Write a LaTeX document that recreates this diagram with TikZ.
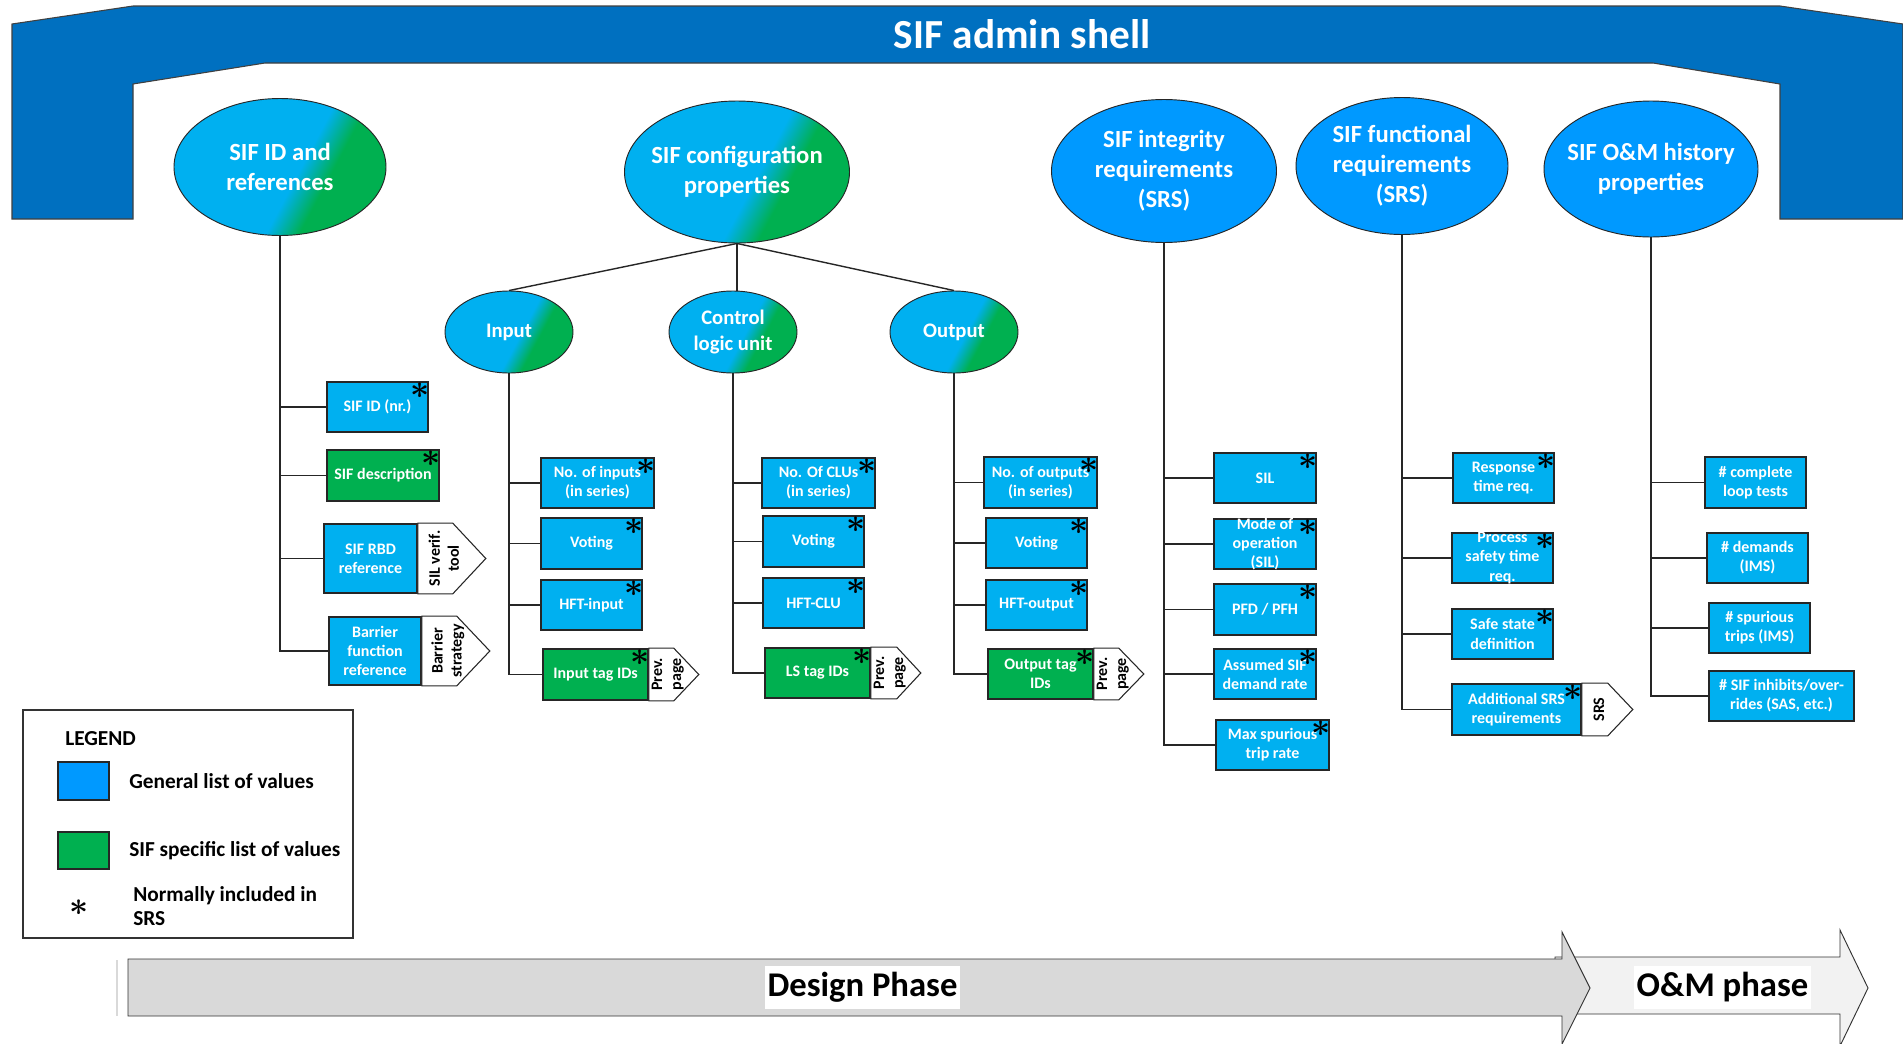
\documentclass[tikz,border=0pt]{standalone}
\usepackage{fontspec}
\setmainfont{Carlito}
\usetikzlibrary{shapes.geometric,calc}
\definecolor{shellblue}{HTML}{0070C0}
\definecolor{boxblue}{HTML}{00B0F0}
\definecolor{boxgreen}{HTML}{00B050}
\definecolor{ellblue}{HTML}{0099FF}
\definecolor{phasegray}{HTML}{D9D9D9}
\definecolor{omgray}{HTML}{F2F2F2}
\definecolor{edge}{HTML}{262626}
\pgfdeclarehorizontalshading{bluegreen}{100bp}{color(0bp)=(boxblue); color(55bp)=(boxblue); color(63bp)=(boxgreen); color(100bp)=(boxgreen)}
\tikzset{
  bx/.style={rectangle, draw=edge, line width=1.2pt, inner sep=0pt},
  bluebx/.style={bx, fill=boxblue},
  greenbx/.style={bx, fill=boxgreen},
  bxtext/.style={text=white, font=\bfseries\fontsize{12}{14.3}\selectfont, align=center, inner sep=0pt},
  conn/.style={draw=black!85, line width=1.05pt},
  tagshape/.style={draw=edge, line width=0.8pt, fill=white},
  tagtext/.style={font=\bfseries\fontsize{12}{14.3}\selectfont, align=center, rotate=90, inner sep=0pt},
  starmark/.style={inner sep=0pt, font=\fontsize{24}{24}\selectfont},
  ellbase/.style={ellipse, draw=black!85, line width=0.7pt, inner sep=0pt},
  gell/.style={ellbase, shade, shading=bluegreen, shading angle=-28},
  bell/.style={ellbase, fill=ellblue},
  elltext/.style={text=white, align=center, inner sep=0pt},
  bigfont/.style={font=\bfseries\fontsize{18.5}{22.5}\selectfont},
  smallfont/.style={font=\bfseries\fontsize{15.5}{19}\selectfont},
  titletext/.style={text=white, font=\bfseries\fontsize{31}{36}\selectfont, inner sep=0pt},
  phaselabel/.style={fill=white, inner sep=0pt, minimum height={43*0.75pt}, font=\bfseries\fontsize{26}{30}\selectfont},
  legtext/.style={inner sep=0pt, font=\bfseries\fontsize{16}{18}\selectfont},
  legsq/.style={draw=edge, line width=0.8pt, inner sep=0pt, minimum width={51*0.75pt}},
}
\newcommand\starglyph{\mbox{\boldmath$\ast$}}
% ellipse: name, style, cx, cy, w, h, font style, text
\newcommand\sifell[8]{%
  \node[#2, minimum width={#5*0.75pt}, minimum height={#6*0.75pt}] (#1) at (#3,#4) {};
  \node[elltext, #7] (#1-t) at (#1.center) {#8};}
% box: name, style, x1, y1, x2, y2, text
\newcommand\sifbox[7]{%
  \node[#2, minimum width={(#5-#3)*0.75pt}, minimum height={(#6-#4)*0.75pt}] (#1) at ({(#3+#5)/2},{(#4+#6)/2}) {};
  \node[bxtext] (#1-t) at (#1.center) {#7};}
\newcommand\sifstar[1]{\path (#1.north east) ++(-9,9) node[starmark] (#1-s) {\starglyph};}
% tag: box, rect width, point width, text, text offset
\newcommand\siftag[5]{%
  \path (#1.north east) ++(#2,0) coordinate (#1-ga);
  \path (#1.east) ++(#2+#3,0) coordinate (#1-gb);
  \path (#1.south east) ++(#2,0) coordinate (#1-gc);
  \path (#1.east) ++(#5,0) coordinate (#1-gd);
  \draw[tagshape] (#1.north east) -- (#1-ga) -- (#1-gb) -- (#1-gc) -- (#1.south east) -- cycle;
  \node[tagtext] (#1-g) at (#1-gd) {#4};}
\begin{document}
\begin{tikzpicture}[x=0.75pt,y=-0.75pt]
\useasboundingbox[fill=white] (0,0) rectangle (1903,1043);
% admin shell banner
\draw[fill=shellblue, draw=black!75, line width=0.8pt] (12,24) -- (133,6) -- (1780,6) -- (1903,24) -- (1903,219) -- (1780,219) -- (1780,84) -- (1653,63) -- (265,63) -- (133,84) -- (133,219) -- (12,219) -- cycle;
\node[titletext] (title) at (1022,34) {SIF admin shell};

% main ellipses
\sifell{idell}{gell}{280}{167}{212}{137}{bigfont}{SIF ID and\\references}
\sifell{cfg}{gell}{737}{172}{225}{142}{bigfont}{SIF configuration\\properties}
\sifell{integ}{bell}{1164}{171}{225}{143}{bigfont}{SIF integrity\\requirements\\(SRS)}
\sifell{func}{bell}{1402}{166}{212}{137}{bigfont}{SIF functional\\requirements\\(SRS)}
\sifell{omh}{bell}{1651}{169}{214}{136}{bigfont}{SIF O\&M history\\properties}

% sub ellipses
\sifell{inp}{gell}{509}{332}{128}{82}{smallfont}{Input}
\sifell{clu}{gell}{733}{332}{128}{82}{smallfont}{Control\\logic unit}
\sifell{outp}{gell}{954}{332}{128}{82}{smallfont}{Output}
\draw[conn] (cfg.south) -- (inp.north);
\draw[conn] (cfg.south) -- (cfg.south |- clu.north);
\draw[conn] (cfg.south) -- (outp.north);

% SIF ID column
\sifbox{sifid}{bluebx}{327}{382}{428}{432}{SIF ID (nr.)}
\sifbox{sifdesc}{greenbx}{327}{450}{439}{501}{SIF description}
\sifbox{rbd}{bluebx}{324}{524}{417}{593}{SIF RBD\\reference}
\sifbox{barrier}{bluebx}{329}{617}{421}{685}{Barrier\\function\\reference}
\sifstar{sifid}
\sifstar{sifdesc}
\siftag{rbd}{35}{33}{SIL verif.\\tool}{26}
\siftag{barrier}{35}{33}{Barrier\\strategy}{26}
\draw[conn] (idell.south) |- (sifid.west);
\draw[conn] (idell.south) |- (sifdesc.west);
\draw[conn] (idell.south) |- (rbd.west);
\draw[conn] (idell.south) |- (barrier.west);

% Input column
\sifbox{noin}{bluebx}{541}{458}{654}{508}{No. of inputs\\(in series)}
\sifbox{votin}{bluebx}{541}{518}{642}{569}{Voting}
\sifbox{hftin}{bluebx}{541}{580}{642}{630}{HFT-input}
\sifbox{intag}{greenbx}{543}{649}{648}{700}{Input tag IDs}
\siftag{intag}{25}{25}{Prev.\\page}{19}
\sifstar{noin}
\sifstar{votin}
\sifstar{hftin}
\sifstar{intag}
\draw[conn] (inp.south) |- (noin.west);
\draw[conn] (inp.south) |- (votin.west);
\draw[conn] (inp.south) |- (hftin.west);
\draw[conn] (inp.south) |- (intag.west);

% CLU column
\sifbox{noclu}{bluebx}{762}{458}{875}{508}{No. Of CLUs\\(in series)}
\sifbox{votclu}{bluebx}{763}{516}{864}{567}{Voting}
\sifbox{hftclu}{bluebx}{763}{578}{864}{628}{HFT-CLU}
\sifbox{lstag}{greenbx}{765}{648}{870}{698}{LS tag IDs}
\siftag{lstag}{26}{24}{Prev.\\page}{19}
\sifstar{noclu}
\sifstar{votclu}
\sifstar{hftclu}
\sifstar{lstag}
\draw[conn] (clu.south) |- (noclu.west);
\draw[conn] (clu.south) |- (votclu.west);
\draw[conn] (clu.south) |- (hftclu.west);
\draw[conn] (clu.south) |- (lstag.west);

% Output column
\sifbox{noout}{bluebx}{984}{457}{1097}{508}{No. of outputs\\(in series)}
\sifbox{votout}{bluebx}{986}{518}{1087}{568}{Voting}
\sifbox{hftout}{bluebx}{986}{580}{1087}{630}{HFT-output}
\sifbox{outtag}{greenbx}{988}{649}{1093}{699}{Output tag\\IDs}
\siftag{outtag}{25}{25}{Prev.\\page}{19}
\sifstar{noout}
\sifstar{votout}
\sifstar{hftout}
\sifstar{outtag}
\draw[conn] (outp.south) |- (noout.west);
\draw[conn] (outp.south) |- (votout.west);
\draw[conn] (outp.south) |- (hftout.west);
\draw[conn] (outp.south) |- (outtag.west);

% Integrity column
\sifbox{sil}{bluebx}{1214}{453}{1316}{503}{SIL}
\sifbox{mode}{bluebx}{1214}{519}{1316}{569}{Mode of\\operation\\(SIL)}
\sifbox{pfd}{bluebx}{1214}{584}{1316}{635}{PFD / PFH}
\sifbox{assumed}{bluebx}{1214}{649}{1316}{699}{Assumed SIF\\demand rate}
\sifbox{maxsp}{bluebx}{1216}{720}{1329}{770}{Max spurious\\trip rate}
\sifstar{sil}
\sifstar{mode}
\sifstar{pfd}
\sifstar{assumed}
\sifstar{maxsp}
\draw[conn] (integ.south) |- (sil.west);
\draw[conn] (integ.south) |- (mode.west);
\draw[conn] (integ.south) |- (pfd.west);
\draw[conn] (integ.south) |- (assumed.west);
\draw[conn] (integ.south) |- (maxsp.west);

% Functional column
\sifbox{resp}{bluebx}{1453}{453}{1554}{503}{Response\\time req.}
\sifbox{pst}{bluebx}{1452}{533}{1553}{583}{Process\\safety time\\req.}
\sifbox{safe}{bluebx}{1452}{609}{1553}{659}{Safe state\\definition}
\sifbox{addsrs}{bluebx}{1452}{684}{1581}{735}{Additional SRS\\requirements}
\siftag{addsrs}{26}{25}{SRS}{17}
\sifstar{resp}
\sifstar{pst}
\sifstar{safe}
\sifstar{addsrs}
\draw[conn] (func.south) |- (resp.west);
\draw[conn] (func.south) |- (pst.west);
\draw[conn] (func.south) |- (safe.west);
\draw[conn] (func.south) |- (addsrs.west);

% O&M column
\sifbox{loop}{bluebx}{1705}{457}{1806}{508}{\# complete\\loop tests}
\sifbox{dem}{bluebx}{1707}{533}{1808}{583}{\# demands\\(IMS)}
\sifbox{spur}{bluebx}{1709}{603}{1810}{653}{\# spurious\\trips (IMS)}
\sifbox{inh}{bluebx}{1709}{671}{1854}{721}{\# SIF inhibits/over-\\rides (SAS, etc.)}
\draw[conn] (omh.south) |- (loop.west);
\draw[conn] (omh.south) |- (dem.west);
\draw[conn] (omh.south) |- (spur.west);
\draw[conn] (omh.south) |- (inh.west);

% Legend
\node[draw=black!80, line width=0.8pt, inner sep=0pt, minimum width={330*0.75pt}, minimum height={228*0.75pt}] (legend) at (188,824) {};
\node[legtext, anchor=west] (legtitle) at (65,739) {LEGEND};
\node[legsq, fill=ellblue, minimum height={38*0.75pt}] (legblue) at (83.5,781) {};
\node[legtext, anchor=west] (legbluet) at (129,781) {General list of values};
\node[legsq, fill=boxgreen, minimum height={37*0.75pt}] (leggreen) at (83.5,850.5) {};
\node[legtext, anchor=west] (leggreent) at (129,851) {SIF specific list of values};
\node[starmark] (legstar) at (79,908) {\starglyph};
\node[legtext, anchor=west, align=left] (legstart) at (133,906) {Normally included in\\SRS};

% Phases
\draw[fill=omgray, draw=black!80, line width=0.7pt] (1555,957) -- (1840,957) -- (1840,930) -- (1868,988) -- (1840,1046) -- (1840,1014) -- (1555,1014) -- cycle;
\draw[fill=phasegray, draw=black!80, line width=0.7pt] (128,959) -- (1562,959) -- (1562,932) -- (1590,988) -- (1562,1044) -- (1562,1016) -- (128,1016) -- cycle;
\draw[black!15, line width=0.8pt] (117,960) -- (117,1016);
\node[phaselabel, minimum width={195*0.75pt}] (design) at (862.5,987.5) {Design Phase};
\node[phaselabel, minimum width={177*0.75pt}] (om) at (1722.5,987.5) {O\&M phase};
\end{tikzpicture}
\end{document}
